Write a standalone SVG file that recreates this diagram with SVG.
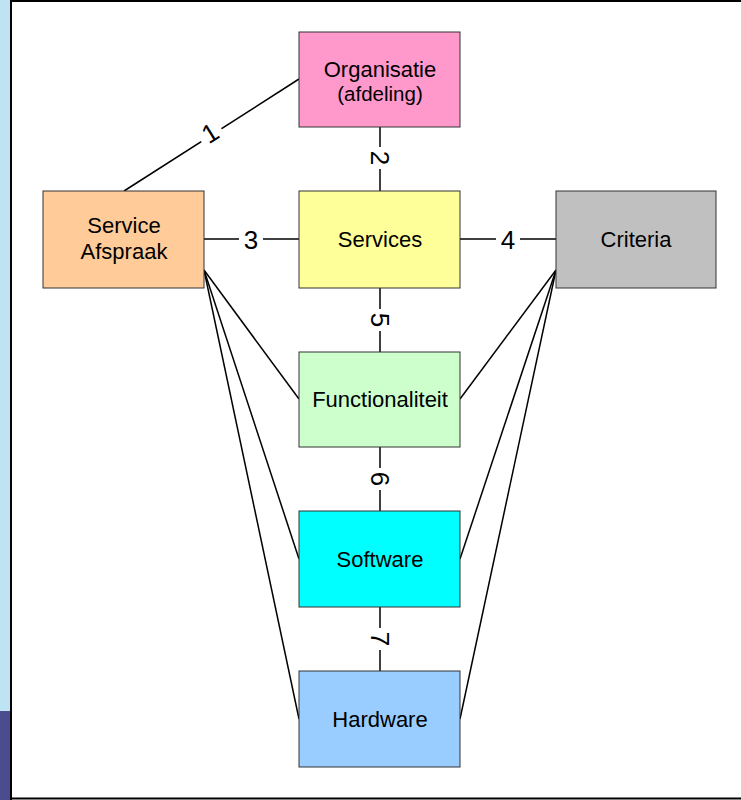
<svg xmlns="http://www.w3.org/2000/svg" width="741" height="800" viewBox="0 0 741 800">
<style>
.box{stroke:#333;stroke-width:1}
.t{font-family:"Liberation Sans",Arial,sans-serif;font-size:22px;fill:#000;text-anchor:middle}
.s{font-size:20.5px}
.n{font-family:"Liberation Sans",Arial,sans-serif;font-size:26px;fill:#000;text-anchor:middle}
.c line{stroke:#000;stroke-width:1.5}
</style>
<rect x="0" y="0" width="741" height="800" fill="#fff"/>
<rect x="0" y="0" width="11" height="711" fill="#BEE3F3"/>
<rect x="0" y="711" width="11" height="89" fill="#4A4C8E"/>
<line x1="11" y1="0" x2="11" y2="800" stroke="#000" stroke-width="2"/>
<line x1="11" y1="1" x2="741" y2="1" stroke="#000" stroke-width="2"/>
<line x1="11" y1="798.5" x2="741" y2="798.5" stroke="#000" stroke-width="2"/>
<g class="c" id="connectors">
<line x1="124" y1="191" x2="299" y2="79"/>
<line x1="380" y1="127" x2="380" y2="191"/>
<line x1="204" y1="239" x2="299" y2="239"/>
<line x1="460" y1="239" x2="556" y2="239"/>
<line x1="380" y1="288" x2="380" y2="352"/>
<line x1="380" y1="447" x2="380" y2="511"/>
<line x1="380" y1="607" x2="380" y2="671"/>
<line x1="204" y1="270" x2="299" y2="399"/>
<line x1="204" y1="270" x2="299" y2="559"/>
<line x1="204" y1="270" x2="299" y2="719"/>
<line x1="556" y1="270" x2="460" y2="399"/>
<line x1="556" y1="270" x2="460" y2="559"/>
<line x1="556" y1="270" x2="460" y2="719"/>
<g id="labels">
<rect x="198" y="120" width="24" height="26" fill="#fff" transform="rotate(-32 210 133)"/>
<text class="n" x="210" y="142" transform="rotate(-32 210 133)">1</text>
<rect x="367" y="147" width="26" height="22" fill="#fff"/>
<text class="n" x="380" y="167" transform="rotate(90 380 158)">2</text>
<rect x="239" y="228" width="24" height="24" fill="#fff"/>
<text class="n" x="251" y="249">3</text>
<rect x="496" y="228" width="24" height="24" fill="#fff"/>
<text class="n" x="508" y="249">4</text>
<rect x="367" y="309" width="26" height="22" fill="#fff"/>
<text class="n" x="380" y="329" transform="rotate(90 380 320)">5</text>
<rect x="367" y="468" width="26" height="22" fill="#fff"/>
<text class="n" x="380" y="488" transform="rotate(90 380 479)">6</text>
<rect x="367" y="628" width="26" height="22" fill="#fff"/>
<text class="n" x="380" y="648" transform="rotate(90 380 639)">7</text>
</g>
</g>
<g id="organisatie"><rect class="box" x="299" y="32" width="161" height="95" fill="#FF99CC"/><text class="t" x="380" y="77">Organisatie</text><text class="t s" x="380" y="101">(afdeling)</text></g>
<g id="services"><rect class="box" x="299" y="191" width="161" height="97" fill="#FFFF99"/><text class="t" x="380" y="247">Services</text></g>
<g id="serviceafspraak"><rect class="box" x="43" y="191" width="161" height="97" fill="#FFCC99"/><text class="t" x="124" y="233">Service</text><text class="t" x="124" y="259">Afspraak</text></g>
<g id="criteria"><rect class="box" x="556" y="191" width="160" height="97" fill="#C0C0C0"/><text class="t" x="636" y="247">Criteria</text></g>
<g id="functionaliteit"><rect class="box" x="299" y="352" width="161" height="95" fill="#CCFFCC"/><text class="t" x="380" y="407">Functionaliteit</text></g>
<g id="software"><rect class="box" x="299" y="511" width="161" height="96" fill="#00FFFF"/><text class="t" x="380" y="567">Software</text></g>
<g id="hardware"><rect class="box" x="299" y="671" width="161" height="96" fill="#99CCFF"/><text class="t" x="380" y="727">Hardware</text></g>
</svg>
